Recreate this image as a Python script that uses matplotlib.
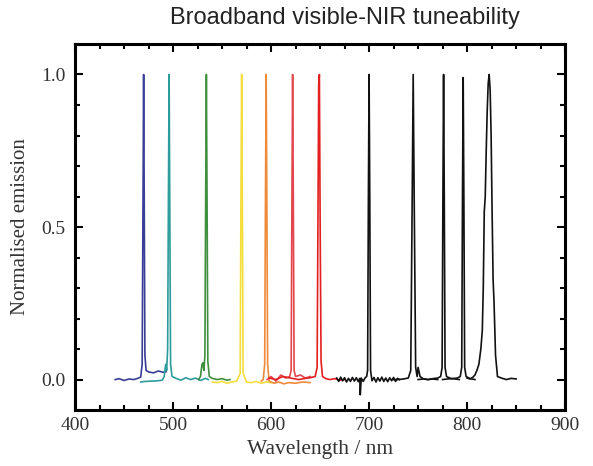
import matplotlib
matplotlib.use("Agg")
import matplotlib.pyplot as plt
from matplotlib.ticker import MultipleLocator

# Emission spectra (wavelength in nm, normalised intensity)
blue_wl = [441, 445, 450, 455, 460, 464, 467, 468.5, 469.3, 470, 470.6, 471.3, 472.5, 475, 480, 485, 490, 493]
blue_em = [0.0, 0.003, -0.003, 0.002, 0.0, 0.004, 0.008, 0.05, 0.55, 1.0, 0.6, 0.08, 0.03, 0.025, 0.022, 0.028, 0.024, 0.026]

teal_wl = [467, 472, 478, 484, 489, 491, 492.5, 493.5, 494.5, 495.3, 496, 496.7, 497.5, 499, 503, 508, 513, 518, 523, 528, 533, 536]
teal_em = [-0.008, -0.006, -0.005, -0.004, -0.002, 0.01, 0.05, 0.03, 0.1, 0.6, 1.0, 0.55, 0.05, 0.01, 0.004, -0.002, 0.006, 0.0, 0.005, -0.003, 0.004, 0.0]

green_wl = [526, 528, 529.5, 530.5, 531.5, 532.5, 533.3, 534, 534.7, 535.5, 537, 540, 545, 550, 555, 558]
green_em = [0.0, 0.01, 0.05, 0.055, 0.03, 0.08, 0.6, 1.0, 0.6, 0.06, 0.01, 0.004, 0.0, 0.003, -0.002, 0.0]

yellow_wl = [540, 545, 550, 555, 560, 565, 568.5, 569.3, 570, 570.7, 571.5, 575, 580, 585, 590, 595, 600]
yellow_em = [-0.008, -0.01, -0.006, -0.012, -0.008, -0.005, 0.02, 0.6, 1.0, 0.6, 0.02, -0.008, -0.01, -0.006, -0.012, -0.008, -0.01]

orange_wl = [590, 592, 593.5, 594.3, 595, 595.7, 596.5, 598, 603, 608, 613, 618, 625, 632, 640]
orange_em = [-0.005, 0.0, 0.05, 0.6, 1.0, 0.6, 0.05, -0.005, -0.012, -0.008, -0.014, -0.01, -0.012, -0.008, -0.01]

red1_wl = [596, 600, 605, 610, 615, 619, 620.5, 621.3, 622, 622.7, 623.5, 625, 630, 635, 640]
red1_em = [0.0, 0.01, -0.005, 0.015, 0.005, 0.01, 0.03, 0.6, 1.0, 0.6, 0.03, 0.01, 0.015, 0.005, 0.01]

red2_wl = [598, 605, 612, 620, 628, 635, 640, 645, 647, 647.8, 648.6, 649.3, 650.1, 651, 652.5, 656, 660, 665, 670, 675]
red2_em = [0.005, 0.0, 0.01, 0.005, 0.0, 0.004, 0.006, 0.01, 0.04, 0.5, 0.97, 1.0, 0.5, 0.06, 0.01, 0.003, 0.0, 0.003, -0.002, 0.0]

nir1_wl = [667, 669, 671, 673, 675, 677, 679, 681, 683, 685, 687, 689, 690.5, 691, 692, 694, 696, 697.5, 698.5, 699.3,
           700, 700.7, 701.5, 703, 705, 707, 709, 711, 713, 715, 717, 719, 721, 723, 725, 727, 729, 731]
nir1_em = [0.005, -0.006, 0.008, -0.004, 0.006, -0.008, 0.004, -0.006, 0.007, -0.005, 0.006, -0.007, 0.004, -0.05, 0.005,
           -0.006, 0.006, 0.01, 0.03, 0.6, 1.0, 0.6, 0.03, -0.004, 0.007, -0.008, 0.006, -0.005, 0.008, -0.006, 0.005,
           -0.007, 0.006, -0.004, 0.007, -0.006, 0.004, 0.0]

nir2_wl = [725, 730, 735, 740, 742.5, 744, 745, 746, 747.5, 749, 750, 752, 755, 760, 765, 770]
nir2_em = [0.0, 0.0, 0.002, 0.005, 0.03, 0.6, 1.0, 0.6, 0.04, 0.01, 0.04, 0.01, 0.003, 0.0, 0.002, 0.0]

nir3_wl = [750, 755, 760, 765, 770, 773, 774.5, 775.3, 776, 776.7, 777.5, 779, 783, 788, 792]
nir3_em = [0.0, 0.002, 0.0, 0.003, 0.005, 0.01, 0.04, 0.6, 1.0, 0.6, 0.04, 0.01, 0.004, 0.002, 0.0]

nir4_wl = [775, 780, 785, 790, 793, 794.5, 795.3, 796, 796.7, 797.5, 799, 803, 808]
nir4_em = [0.0, 0.002, 0.003, 0.005, 0.01, 0.04, 0.6, 0.99, 0.6, 0.04, 0.01, 0.003, 0.0]

nir5_wl = [800, 803, 806, 808, 810, 812, 814, 815.5, 816.5, 817.5, 818.5, 819.5, 820.5, 821.5, 822.5, 823.5,
           824.5, 825.5, 826.5, 827.5, 829, 831, 835, 840, 845, 850]
nir5_em = [0.005, 0.002, 0.008, 0.015, 0.03, 0.05, 0.1, 0.16, 0.3, 0.55, 0.6, 0.75, 0.88, 0.97, 1.0, 0.95,
           0.8, 0.55, 0.33, 0.25, 0.08, 0.01, 0.005, 0.0, 0.004, 0.002]

spectra = [
    (blue_wl, blue_em, '#3a3e96'),
    (teal_wl, teal_em, '#2e9c9c'),
    (green_wl, green_em, '#3f8f3f'),
    (yellow_wl, yellow_em, '#f4de3c'),
    (orange_wl, orange_em, '#ee8a3a'),
    (red1_wl, red1_em, '#e4464e'),
    (red2_wl, red2_em, '#e3201f'),
    (nir1_wl, nir1_em, '#111111'),
    (nir2_wl, nir2_em, '#111111'),
    (nir3_wl, nir3_em, '#111111'),
    (nir4_wl, nir4_em, '#111111'),
    (nir5_wl, nir5_em, '#111111'),
]

fig = plt.figure(figsize=(5.93, 4.66), dpi=100)
ax = fig.add_axes([0.1265, 0.12, 0.8265, 0.7856])

for wl, em, col in spectra:
    ax.plot(wl, em, color=col, lw=1.2)

ax.set_xlim(400, 900)
ax.set_ylim(-0.1, 1.1)
ax.xaxis.set_major_locator(MultipleLocator(100))
ax.xaxis.set_minor_locator(MultipleLocator(25))
ax.yaxis.set_major_locator(MultipleLocator(0.5))
ax.yaxis.set_minor_locator(MultipleLocator(0.1))
ax.yaxis.set_major_formatter(plt.FuncFormatter(lambda v, p: f'{v:.1f}'))

ax.tick_params(which='both', direction='in', top=True, right=True, width=1.5, labelsize=14)
ax.tick_params(axis='y', pad=7)
ax.tick_params(axis='x', pad=5)
ax.tick_params(which='major', length=6)
ax.tick_params(which='minor', length=3.5)
for lbl in ax.get_xticklabels() + ax.get_yticklabels():
    lbl.set_family('Liberation Serif')
    lbl.set_color('#333333')
for s in ax.spines.values():
    s.set_linewidth(2.2)

ax.set_xlabel('Wavelength / nm', family='Liberation Serif', fontsize=15.5, color='#333333')
ax.set_ylabel('Normalised emission', family='Liberation Serif', fontsize=15, color='#333333')
ax.xaxis.set_label_coords(0.5, -0.082)
ax.yaxis.set_label_coords(-0.092, 0.5)

fig.text(0.582, 1 - 18 / 466, 'Broadband visible-NIR tuneability', ha='center', va='center',
         family='Liberation Sans', fontsize=17, color='#222222')

fig.savefig('out.png', dpi=100)
